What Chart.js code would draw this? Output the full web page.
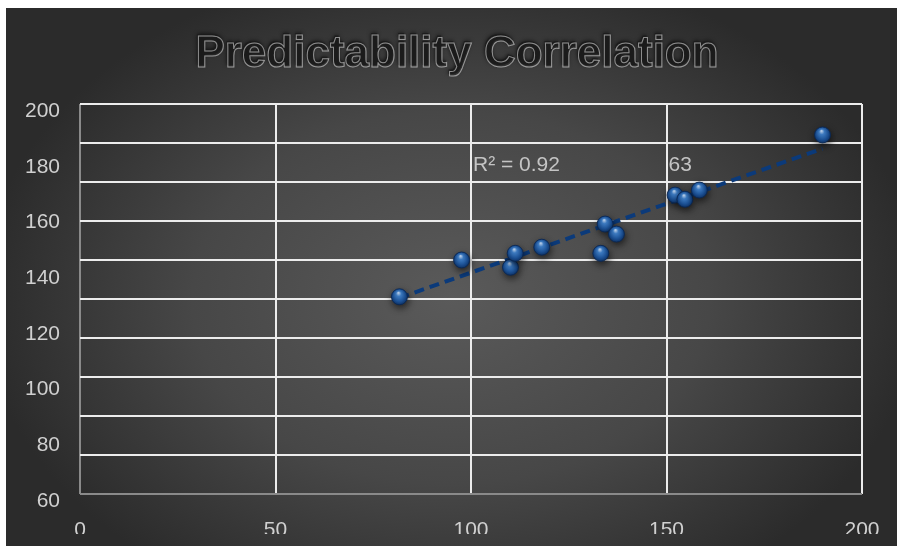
<!DOCTYPE html>
<html>
<head>
<meta charset="utf-8">
<script src="https://cdn.jsdelivr.net/npm/chart.js@4/dist/chart.umd.min.js"></script>
<style>
  html, body { margin: 0; padding: 0; background: #fff; }
  #wrap { position: absolute; left: 6px; top: 8px; width: 891px; height: 538px; overflow: hidden; }
  #chart { display: block; }
</style>
</head>
<body>
<div id="wrap"><canvas id="chart" width="891" height="538"></canvas></div>
<script>
// scatter values
var xVals = [81.7, 97.6, 110.1, 111.3, 118.1, 133.2, 134.3, 137.2, 152.2, 154.7, 158.4, 189.9];
var yVals = [130.8, 144.0, 141.4, 146.4, 148.6, 146.4, 156.9, 153.3, 167.3, 165.8, 169.1, 188.9];

// trend line end points
var trendX = [81.7, 189.9];
var trendY = [130.4, 184.0];

var xTicks = [0, 50, 100, 150, 200];
var yTicks = [60, 80, 100, 120, 140, 160, 180, 200];
var chartTitle = 'Predictability Correlation';
var trendLabels = ['R\u00b2 = 0.92', '63'];

var points = [];
for (var i = 0; i < xVals.length; i++) points.push({x: xVals[i], y: yVals[i]});
var trend = [];
for (var j = 0; j < trendX.length; j++) trend.push({x: trendX[j], y: trendY[j]});

function bgGradient(ctx) {
  var sy = 0.72;
  ctx.save();
  ctx.scale(1, sy);
  var g = ctx.createRadialGradient(445, 290 / sy, 0, 445, 290 / sy, 470);
  g.addColorStop(0, '#5a5a5a');
  g.addColorStop(0.55, '#474747');
  g.addColorStop(1, '#2b2b2b');
  ctx.fillStyle = g;
  return sy;
}

var background = {
  id: 'background',
  beforeDraw: function(chart) {
    var ctx = chart.ctx;
    var sy = bgGradient(ctx);
    ctx.fillRect(0, 0, chart.width, chart.height / sy);
    ctx.restore();
  },
  afterDraw: function(chart) {
    // bottom strip covers the lower half of the x labels
    var ctx = chart.ctx;
    var sy = bgGradient(ctx);
    ctx.fillRect(0, 526 / sy, chart.width, (chart.height - 526) / sy);
    ctx.restore();
  }
};

var titleText = {
  id: 'titleText',
  afterDraw: function(chart) {
    var ctx = chart.ctx;
    ctx.save();
    ctx.font = 'bold 44px "Liberation Sans", Arial, sans-serif';
    ctx.textAlign = 'center';
    ctx.textBaseline = 'middle';
    ctx.shadowColor = 'rgba(0,0,0,0.8)';
    ctx.shadowBlur = 4;
    ctx.fillStyle = 'rgba(28,28,28,0.9)';
    ctx.fillText(chartTitle, 450, 45);
    ctx.shadowBlur = 0;
    ctx.strokeStyle = 'rgba(255,255,255,0.5)';
    ctx.lineWidth = 1;
    ctx.strokeText(chartTitle, 451, 47);
    ctx.restore();
  }
};

var trendText = {
  id: 'trendText',
  afterDatasetsDraw: function(chart) {
    var ctx = chart.ctx, xs = chart.scales.x, ys = chart.scales.y;
    ctx.save();
    ctx.font = '21px "Liberation Sans", Arial, sans-serif';
    ctx.fillStyle = '#c4c4c4';
    ctx.textAlign = 'left';
    ctx.textBaseline = 'middle';
    ctx.fillText(trendLabels[0], xs.getPixelForValue(100) + 2, ys.getPixelForValue(178));
    ctx.fillText(trendLabels[1], xs.getPixelForValue(150) + 2, ys.getPixelForValue(178));
    ctx.restore();
  }
};

var pointShadow = {
  id: 'pointShadow',
  beforeDatasetDraw: function(chart, args) {
    if (args.index !== 0) return;
    var ctx = chart.ctx;
    ctx.save();
    ctx.shadowColor = 'rgba(0,0,0,0.6)';
    ctx.shadowBlur = 7;
    ctx.shadowOffsetX = 1;
    ctx.shadowOffsetY = 3;
  },
  afterDatasetDraw: function(chart, args) {
    if (args.index !== 0) return;
    chart.ctx.restore();
  }
};

function sphere(c) {
  if (c.type !== 'data' || !c.chart.scales.x) return '#1f5aa0';
  var xs = c.chart.scales.x, ys = c.chart.scales.y;
  var px = xs.getPixelForValue(c.raw.x), py = ys.getPixelForValue(c.raw.y);
  if (!isFinite(px) || !isFinite(py)) return '#1f5aa0';
  var g = c.chart.ctx.createRadialGradient(px - 1, py - 4, 0.5, px, py, 9);
  g.addColorStop(0, '#b9d3f2');
  g.addColorStop(0.25, '#3f7fc8');
  g.addColorStop(0.7, '#1a4f94');
  g.addColorStop(1, '#0c2d5c');
  return g;
}

function gridColor(c) {
  return c.tick && c.tick.value === c.scale.min ? '#8a8a8a' : '#ececec';
}

new Chart(document.getElementById('chart'), {
  type: 'scatter',
  data: {
    datasets: [{
      data: points,
      order: 1,
      pointRadius: 8,
      pointHoverRadius: 8,
      pointBackgroundColor: sphere,
      pointBorderColor: 'rgba(10,40,85,0.9)',
      pointBorderWidth: 1
    }, {
      type: 'line',
      data: trend,
      order: 2,
      borderColor: '#0b3a7a',
      borderWidth: 4,
      borderDash: [10, 6],
      pointRadius: 0,
      fill: false
    }]
  },
  options: {
    responsive: false,
    animation: false,
    layout: { padding: { top: 96, right: 35, left: 0, bottom: 0 } },
    plugins: { legend: { display: false }, title: { display: false }, tooltip: { enabled: false } },
    scales: {
      x: {
        type: 'linear',
        min: 0, max: 200,
        afterBuildTicks: function(s) { s.ticks = xTicks.map(function(v) { return {value: v}; }); },
        afterFit: function(s) { s.height = 52; },
        grid: { color: gridColor, lineWidth: 2, drawTicks: true, tickLength: 22, tickColor: 'rgba(0,0,0,0)' },
        border: { display: false },
        ticks: { color: '#d0d0d0', padding: 2, font: { size: 21, family: '"Liberation Sans", Arial, sans-serif' } }
      },
      y: {
        type: 'linear',
        position: 'left',
        min: 60, max: 200,
        afterBuildTicks: function(s) { s.ticks = yTicks.map(function(v) { return {value: v}; }); },
        afterFit: function(s) { s.width = 74; },
        grid: { display: false, drawTicks: false },
        border: { display: false },
        ticks: { color: '#d0d0d0', padding: 20, labelOffset: 7, font: { size: 21, family: '"Liberation Sans", Arial, sans-serif' } }
      },
      yg: {
        type: 'linear',
        position: 'left',
        min: 60, max: 200,
        ticks: { display: false, stepSize: 14 },
        afterFit: function(s) { s.width = 0; },
        grid: { color: gridColor, lineWidth: 2, drawTicks: false },
        border: { display: false }
      }
    }
  },
  plugins: [background, titleText, trendText, pointShadow]
});
</script>
</body>
</html>
